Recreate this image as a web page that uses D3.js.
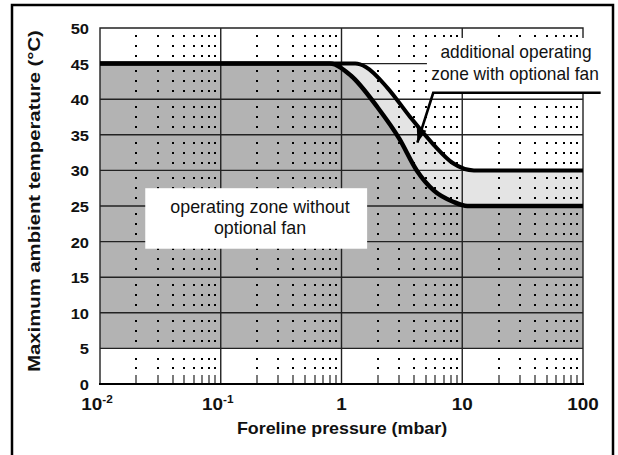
<!DOCTYPE html>
<html>
<head>
<meta charset="utf-8">
<script src="https://cdn.jsdelivr.net/npm/d3@7"></script>
<style>
body { margin: 0; background: #fff; }
text { font-family: "Liberation Sans", Arial, sans-serif; fill: #111; }
</style>
</head>
<body>
<svg id="chart"></svg>
<script>
// data
var tempTicks = [0, 5, 10, 15, 20, 25, 30, 35, 40, 45, 50];
var gridTemps = [5, 10, 15, 20, 25, 30, 35, 40, 45];
var pressMajor = [0.01, 0.1, 1, 10, 100];
var pressLabels = [["10", "-2"], ["10", "-1"], ["1", ""], ["10", ""], ["100", ""]];
var minorMult = [2, 3, 4, 5, 6, 7, 8, 9];
var zoneFloor = 5;
// limit without fan (lower curve)
var noFanCurve = [[0.01, 45], [0.8, 45], [1.2, 43.3], [2, 38.8], [3, 34.5], [4.2, 30], [5.8, 27.2], [8.4, 25.6], [11, 25], [100, 25]];
// limit with optional fan (upper curve)
var fanCurve = [[0.01, 45], [1.3, 45], [1.6, 44.5], [2.4, 41.6], [3.7, 37.5], [5.8, 33.6], [8.4, 31], [12.5, 30], [100, 30]];

var w = 618, h = 455;
var plotL = 100, plotR = 583, plotT = 28, plotB = 384;

var svg = d3.select("#chart").attr("width", w).attr("height", h);

var x = d3.scaleLog().domain([0.01, 100]).range([plotL, plotR]);
var y = d3.scaleLinear().domain([0, 50]).range([plotB, plotT]);

// outer frame
svg.append("rect")
	.attr("x", 12).attr("y", 5).attr("width", 601).attr("height", 470)
	.attr("fill", "#fff").attr("stroke", "#000").attr("stroke-width", 2.5);

// zones
var area = d3.area().curve(d3.curveMonotoneX)
	.x(function(d) { return x(d[0]); })
	.y0(y(zoneFloor))
	.y1(function(d) { return y(d[1]); });

svg.append("path").datum(fanCurve).attr("fill", "#e4e4e4").attr("d", area);
svg.append("path").datum(noFanCurve).attr("fill", "#b3b3b3").attr("d", area);

// minor positions
var minors = [];
[0.01, 0.1, 1, 10].forEach(function(dec) {
	minorMult.forEach(function(m) { minors.push(dec * m); });
});

// dotted minor grid
var dots = [];
minors.forEach(function(p) {
	for (var t = 0; t < 50; t += 5) {
		var fr = t == 0 ? [0.3, 0.55] : [0.22, 0.5, 0.78];
		fr.forEach(function(f) { dots.push([p, t + 5 - f * 5]); });
	}
});
svg.append("g").selectAll("rect").data(dots).join("rect")
	.attr("x", function(d) { return Math.round(x(d[0])) - 1; })
	.attr("y", function(d) { return Math.round(y(d[1])) - 1; })
	.attr("width", 2).attr("height", 2).attr("fill", "#000");

// minor ticks on the bottom axis
svg.append("g").selectAll("line").data(minors).join("line")
	.attr("x1", function(d) { return Math.round(x(d)); })
	.attr("x2", function(d) { return Math.round(x(d)); })
	.attr("y1", plotB - 9).attr("y2", plotB)
	.attr("stroke", "#333").attr("stroke-width", 1.3);

// horizontal grid
svg.append("g").selectAll("line").data(gridTemps).join("line")
	.attr("x1", plotL).attr("x2", plotR)
	.attr("y1", function(d) { return y(d); })
	.attr("y2", function(d) { return y(d); })
	.attr("stroke", "#222").attr("stroke-width", 1.4);

// vertical decade lines
svg.append("g").selectAll("line").data(pressMajor.slice(1, 4)).join("line")
	.attr("x1", function(d) { return x(d); })
	.attr("x2", function(d) { return x(d); })
	.attr("y1", plotT).attr("y2", plotB)
	.attr("stroke", "#222").attr("stroke-width", 1.4);

// plot frame
svg.append("path")
	.attr("d", "M" + plotL + "," + plotB + "V" + plotT + "H" + plotR + "V" + plotB)
	.attr("fill", "none").attr("stroke", "#222").attr("stroke-width", 1.4);
svg.append("line")
	.attr("x1", plotL - 1).attr("x2", plotR + 1).attr("y1", plotB).attr("y2", plotB)
	.attr("stroke", "#000").attr("stroke-width", 2.2);

// limit curves
var line = d3.line().curve(d3.curveMonotoneX)
	.x(function(d) { return x(d[0]); })
	.y(function(d) { return y(d[1]); });

svg.append("path").datum(fanCurve).attr("fill", "none")
	.attr("stroke", "#000").attr("stroke-width", 4).attr("d", line);
svg.append("path").datum(noFanCurve).attr("fill", "none")
	.attr("stroke", "#000").attr("stroke-width", 4.5).attr("d", line);

// stretched text helper
function label(px, py, str, size, weight, sx, anchor, rot) {
	var g = svg.append("g")
		.attr("transform", "translate(" + px + "," + py + ") rotate(" + (rot || 0) + ") scale(" + sx + ",1)");
	return g.append("text")
		.attr("text-anchor", anchor)
		.style("font-size", size + "px")
		.style("font-weight", weight)
		.text(str);
}

// annotation boxes
svg.append("rect")
	.attr("x", x(0.0237)).attr("y", y(27.5))
	.attr("width", x(1.63) - x(0.0237)).attr("height", y(19) - y(27.5))
	.attr("fill", "#fff");
label(260, 213, "operating zone without", 17.5, "normal", 1.02, "middle");
label(260, 234, "optional fan", 17.5, "normal", 1.02, "middle");

svg.append("rect")
	.attr("x", x(5.1)).attr("y", y(48.6))
	.attr("width", 603 - x(5.1)).attr("height", y(40.9) - y(48.6))
	.attr("fill", "#fff");
label(516, 58, "additional operating", 17.5, "normal", 0.99, "middle");
label(515, 80, "zone with optional fan", 17.5, "normal", 0.99, "middle");

// arrow
var arrowPts = [[x(140), y(40.9)], [x(5.75), y(40.9)], [x(4.25), y(33.9)]];
svg.append("polyline")
	.attr("points", arrowPts.map(function(p) { return p.join(","); }).join(" "))
	.attr("fill", "none").attr("stroke", "#000").attr("stroke-width", 2.6)
	.attr("stroke-linejoin", "miter");
var tip = arrowPts[2], from = arrowPts[1];
var dx = tip[0] - from[0], dy = tip[1] - from[1];
var len = Math.sqrt(dx * dx + dy * dy);
var ux = dx / len, uy = dy / len;
var bx = tip[0] - ux * 14, by = tip[1] - uy * 14;
svg.append("path")
	.attr("d", "M" + tip[0] + "," + tip[1] +
		"L" + (bx - uy * 5) + "," + (by + ux * 5) +
		"L" + (bx + uy * 5) + "," + (by - ux * 5) + "Z")
	.attr("fill", "#000");

// y tick labels
tempTicks.forEach(function(t) {
	label(89, y(t) + 6, String(t), 15, "bold", 1.1, "end");
});

// x tick labels
pressLabels.forEach(function(lb, i) {
	var tx = label(x(pressMajor[i]) + (lb[1] ? -3 : 0), 410, "", 16, "bold", 1.18, "middle");
	tx.append("tspan").text(lb[0]);
	if (lb[1]) {
		tx.append("tspan").attr("dy", -7).style("font-size", "10px").text(lb[1]);
	}
});

// axis titles
label(342, 434, "Foreline pressure (mbar)", 17, "bold", 1.05, "middle");
label(40, 201, "Maximum ambient temperature (\u00b0C)", 16.5, "bold", 1.23, "middle", -90);
</script>
</body>
</html>
